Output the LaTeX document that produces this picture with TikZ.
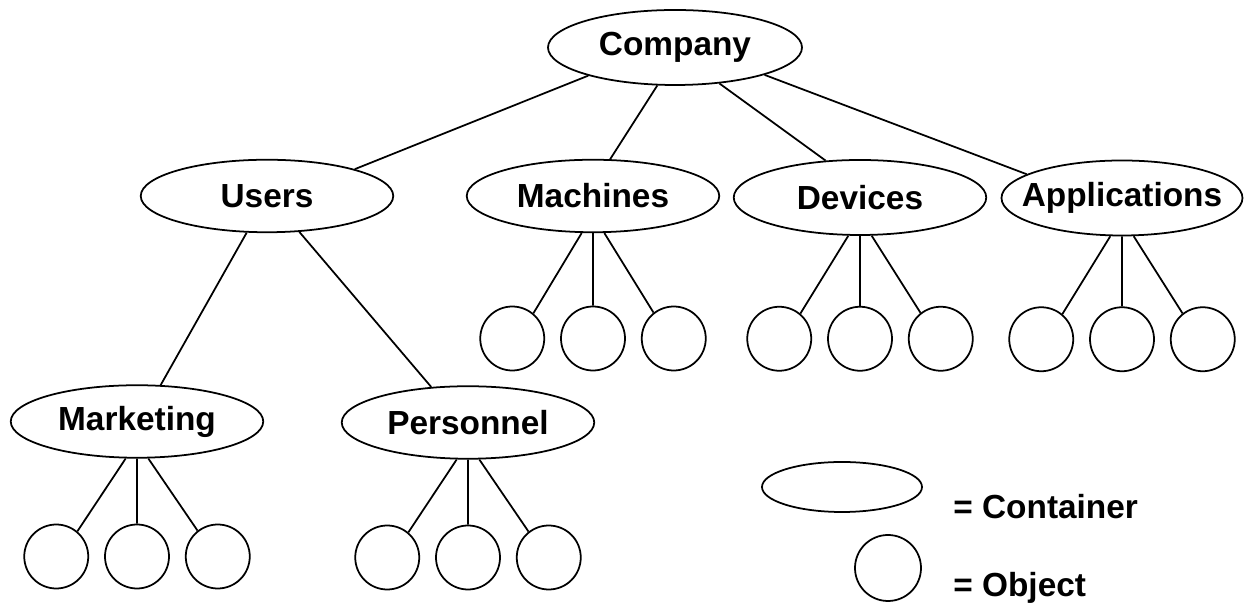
\documentclass[tikz,border=0pt]{standalone}
\usepackage{fontspec}
\setmainfont{Liberation Sans}
\usetikzlibrary{positioning, shapes.geometric}

\begin{document}
\begin{tikzpicture}[
    node distance=0.3cm,
    container/.style={ellipse, draw, line width=1pt, minimum width=5.05cm,
                minimum height=1.45cm, inner sep=0pt},
    object/.style={circle, draw, line width=1pt, minimum size=1.28cm, inner sep=0pt},
    link/.style={line width=1pt},
    keytext/.style={anchor=west, inner sep=0pt, font=\bfseries\fontsize{19}{22}\selectfont},
    every label/.style={font=\bfseries\fontsize{19}{22}\selectfont}
  ]
    \useasboundingbox (0,0) rectangle (24.9,12.1);

    % containers
    \node[container, minimum width=5.08cm, minimum height=1.5cm, label=center:Company] (comp) at (13.5,11.15) {};
    \node[container, label=center:Users]     (users) at (5.34,8.18) {};
    \node[container, label=center:Machines]  (mach)  at (11.86,8.18) {};
    \node[container, minimum height=1.5cm, label=center:Devices] (dev) at (17.2,8.15) {};
    \node[container, minimum width=4.82cm, minimum height=1.5cm, label=center:Applications] (app) at (22.44,8.14) {};
    \node[container, label=center:Marketing] (mkt)   at (2.74,3.67) {};
    \node[container, label=center:Personnel] (pers)  at (9.36,3.65) {};

    % objects
    \node[object, below=1.45cm of mach] (mach2) {};
    \node[object, left=of mach2]  (mach1) {};
    \node[object, right=of mach2] (mach3) {};
    \node[object, below=1.4cm of dev] (dev2) {};
    \node[object, left=of dev2]  (dev1) {};
    \node[object, right=of dev2] (dev3) {};
    \node[object, below=1.4cm of app] (app2) {};
    \node[object, left=of app2]  (app1) {};
    \node[object, right=of app2] (app3) {};
    \node[object, below=1.3cm of mkt] (mkt2) {};
    \node[object, left=of mkt2]  (mkt1) {};
    \node[object, right=of mkt2] (mkt3) {};
    \node[object, below=1.3cm of pers] (pers2) {};
    \node[object, left=of pers2]  (pers1) {};
    \node[object, right=of pers2] (pers3) {};

    % legend
    \node[container, minimum width=3.2cm, minimum height=1cm] (keybox) at (16.84,2.36) {};
    \node[object, minimum size=1.32cm] (keycirc) at (17.76,0.74) {};
    \node[keytext] (keycont) at (19.06,1.96) {= Container};
    \node[keytext] (keyobj)  at (19.06,0.34) {= Object};

    \draw[link] (comp.198) -- (users.17);
    \draw[link] (comp.245) -- (mach.65);
    \draw[link] (comp.321) -- (dev.133);
    \draw[link] (comp.343) -- (app.166);
    \draw[link] (users.241) -- (mkt.57);
    \draw[link] (users.312) -- (pers.136);

    \draw[link] (mach.253) -- (mach1.50) (mach) -- (mach2) (mach.287) -- (mach3.128);
    \draw[link] (dev.253) -- (dev1.50) (dev) -- (dev2) (dev.287) -- (dev3.128);
    \draw[link] (app.253) -- (app1.50) (app) -- (app2) (app.287) -- (app3.128);
    \draw[link] (mkt.253) -- (mkt1.50) (mkt) -- (mkt2) (mkt.287) -- (mkt3.128);
    \draw[link] (pers.253) -- (pers1.50) (pers) -- (pers2) (pers.287) -- (pers3.128);
  \end{tikzpicture}
\end{document}
